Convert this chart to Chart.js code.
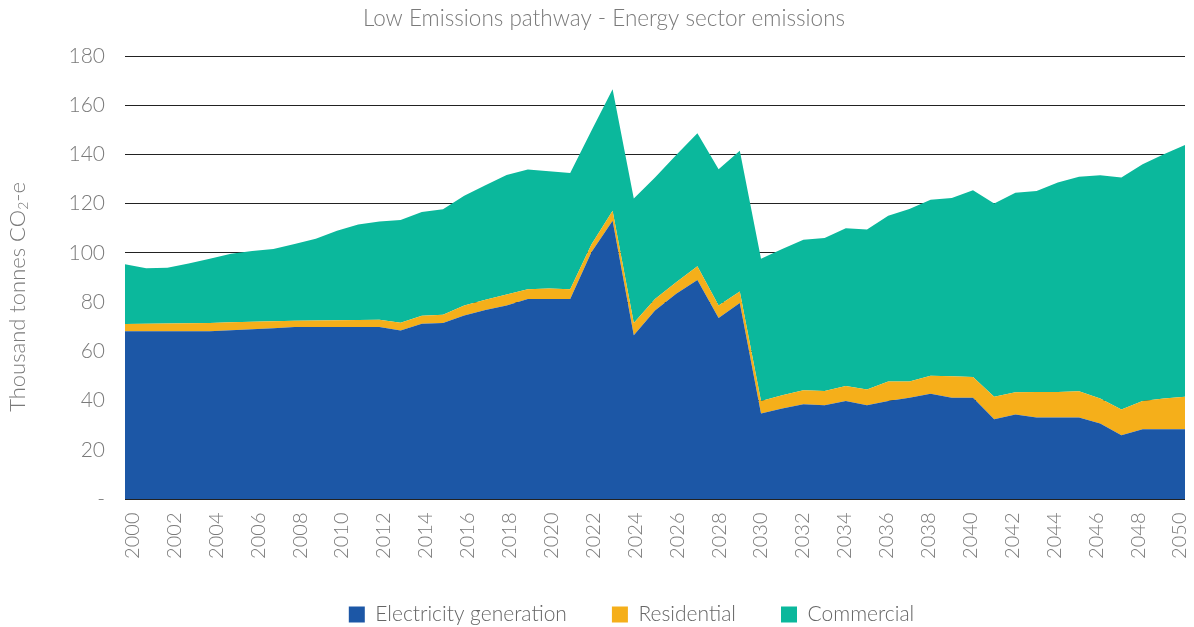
<!DOCTYPE html>
<html>
<head>
<meta charset="utf-8">
<script src="https://cdn.jsdelivr.net/npm/chart.js@4"></script>
<style>
  html, body { margin: 0; padding: 0; background: #ffffff; }
  #wrap { width: 1194px; height: 627px; position: relative; }
</style>
</head>
<body>
<div id="wrap"><canvas id="c" width="1194" height="627"></canvas></div>
<script>
const years = ["2000","2001","2002","2003","2004","2005","2006","2007","2008","2009",
  "2010","2011","2012","2013","2014","2015","2016","2017","2018","2019",
  "2020","2021","2022","2023","2024","2025","2026","2027","2028","2029",
  "2030","2031","2032","2033","2034","2035","2036","2037","2038","2039",
  "2040","2041","2042","2043","2044","2045","2046","2047","2048","2049","2050"];

const electricity = [68.2,68.2,68.2,68.2,68.2,68.6,69.0,69.4,69.9,69.9,
  69.9,69.9,69.9,68.5,71.2,71.5,74.6,76.8,78.6,81.3,
  81.3,81.3,100.3,113.1,66.5,76.6,83.4,89.0,73.5,79.6,
  34.7,36.8,38.5,38.1,39.8,38.1,39.8,41.1,42.8,41.1,
  41.1,32.4,34.3,33.1,33.1,33.1,30.7,25.9,28.3,28.3,28.3];

const residential = [2.9,3.0,3.1,3.2,3.3,3.2,3.0,2.8,2.5,2.6,
  2.7,2.8,2.9,3.1,3.3,3.4,4.0,4.2,4.5,3.9,
  4.2,3.9,3.1,4.0,5.0,4.7,4.7,5.6,5.1,4.7,
  5.1,5.4,5.7,5.8,6.1,6.4,7.9,6.6,7.3,8.8,
  8.5,9.1,9.1,10.4,10.4,10.7,10.1,10.5,11.5,12.5,13.2];

const commercial = [24.3,22.6,22.7,24.3,26.1,27.9,28.8,29.4,31.2,33.2,
  36.4,38.8,40.0,41.8,42.1,42.8,44.6,46.5,48.5,48.7,
  47.7,47.3,46.2,49.4,50.6,49.3,51.7,54.0,55.4,57.2,
  57.8,59.4,61.1,62.2,64.1,65.0,67.4,70.1,71.5,72.4,
  75.9,78.6,81.0,81.6,85.1,87.1,90.7,94.2,96.2,99.3,102.3];

const xTickYears = [2000,2002,2004,2006,2008,2010,2012,2014,2016,2018,2020,2022,2024,
  2026,2028,2030,2032,2034,2036,2038,2040,2042,2044,2046,2048,2050];
const yTicks = [0,20,40,60,80,100,120,140,160,180];

const chartTitle = "Low Emissions pathway - Energy sector emissions";
const yTitleParts = ["Thousand tonnes CO", "2", "-e"];

const FONT = "Lato, 'Open Sans', sans-serif";
const GREY = "#7a7a7a";

// Draws the rotated x tick labels (placed by the x2 scale), the y-axis title
// (with a real subscript "2"), and nudges title/legend
const helperPlugin = {
  id: "helper",
  afterLayout(chart) {
    if (chart.titleBlock) chart.titleBlock.left += 23;
    if (chart.legend) chart.legend.left += 78;
  },
  afterDraw(chart) {
    const ctx = chart.ctx;
    const xs = chart.scales.x2;
    ctx.save();
    ctx.fillStyle = GREY;
    ctx.font = "300 20px " + FONT;
    ctx.textAlign = "right";
    ctx.textBaseline = "middle";
    xTickYears.forEach(v => {
      const px = xs.getPixelForValue(v);
      ctx.save();
      ctx.translate(px, chart.chartArea.bottom + 13.5);
      ctx.rotate(-Math.PI / 2);
      ctx.fillText(String(v), 0, 0);
      ctx.restore();
    });
    ctx.restore();

    const big = "300 22px " + FONT;
    const small = "300 14px " + FONT;
    ctx.save();
    ctx.fillStyle = GREY;
    ctx.textBaseline = "middle";
    ctx.textAlign = "left";
    const fonts = [big, small, big];
    const widths = yTitleParts.map((t, i) => { ctx.font = fonts[i]; return ctx.measureText(t).width; });
    const total = widths.reduce((a, b) => a + b, 0);
    ctx.translate(17.5, 297);
    ctx.rotate(-Math.PI / 2);
    let x = -total / 2;
    yTitleParts.forEach((t, i) => {
      ctx.font = fonts[i];
      ctx.fillText(t, x, i === 1 ? 6 : 0);
      x += widths[i];
    });
    ctx.restore();
  }
};

new Chart(document.getElementById("c"), {
  type: "line",
  data: {
    labels: years,
    datasets: [
      { label: "Electricity generation", data: electricity, backgroundColor: "#1c57a6", borderColor: "#1c57a6", fill: "origin" },
      { label: "Residential", data: residential, backgroundColor: "#f5af1a", borderColor: "#f5af1a", fill: "-1" },
      { label: "Commercial", data: commercial, backgroundColor: "#0bb89c", borderColor: "#0bb89c", fill: "-1" }
    ]
  },
  plugins: [helperPlugin],
  options: {
    responsive: false,
    animation: false,
    devicePixelRatio: 1,
    elements: { point: { radius: 0 }, line: { borderWidth: 0, tension: 0 } },
    layout: { padding: { left: 0, right: 9, top: 0, bottom: -8 } },
    plugins: {
      title: {
        display: true,
        text: chartTitle,
        color: GREY,
        font: { family: FONT, size: 22.5, weight: 300 },
        padding: { top: 5, bottom: 24 }
      },
      legend: {
        position: "bottom",
        labels: {
          color: "#666",
          font: { family: FONT, size: 21, weight: 300 },
          boxWidth: 16, boxHeight: 16,
          padding: 45
        }
      },
      tooltip: { enabled: false }
    },
    scales: {
      x: {
        type: "category",
        display: false,
        offset: false
      },
      x2: {
        type: "linear",
        position: "bottom",
        min: 1999.642,
        max: 2050.239,
        afterBuildTicks: function(s) { s.ticks = xTickYears.map(v => ({ value: v })); },
        grid: { display: false },
        border: { display: false },
        ticks: { display: false },
        afterFit: function(s) { s.height = 60; s.paddingRight = 0; s.paddingLeft = 0; }
      },
      y: {
        stacked: true,
        min: 0, max: 180,
        afterBuildTicks: function(s) { s.ticks = yTicks.map(v => ({ value: v })); },
        grid: { color: "#222", lineWidth: 1, drawTicks: false },
        border: { display: false },
        ticks: {
          color: GREY,
          font: { family: FONT, size: 21, weight: 300 },
          padding: 20,
          callback: function(v) { return v === 0 ? "-" : v; }
        },
        afterFit: function(s) { s.width = 125; }
      }
    }
  }
});
</script>
</body>
</html>
